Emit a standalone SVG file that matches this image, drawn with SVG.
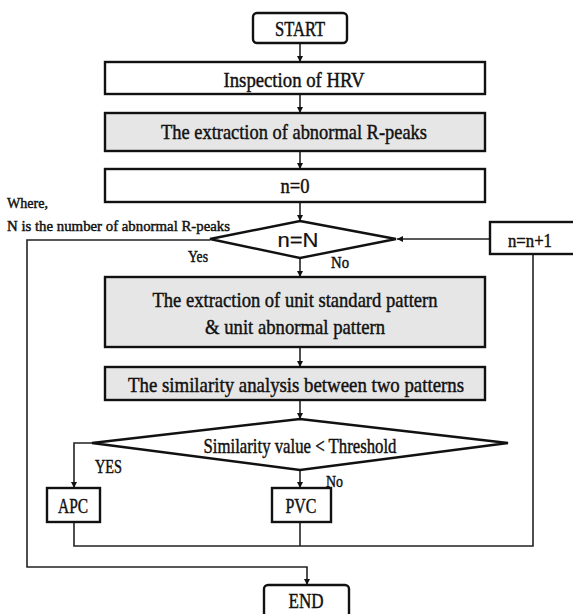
<svg xmlns="http://www.w3.org/2000/svg" width="573" height="614" viewBox="0 0 573 614">
<style>
.box{fill:#fff;stroke:#111;stroke-width:2.4}
.gray{fill:#e6e6e6;stroke:#111;stroke-width:2.4}
.conn{fill:none;stroke:#222;stroke-width:1.6}
text{fill:#111;stroke:#111;stroke-width:0.45}
.t{font-family:"Liberation Serif","Times New Roman",serif;text-anchor:middle}
.s{font-family:"Liberation Sans",Arial,sans-serif;text-anchor:middle;stroke-width:0.2}
.l{font-family:"Liberation Serif","Times New Roman",serif}
</style>
<defs>
<marker id="ah" markerUnits="userSpaceOnUse" markerWidth="8" markerHeight="8" refX="6" refY="3" orient="auto">
<path d="M0,0 L6,3 L0,6 z" fill="#111"/>
</marker>
</defs>
<rect width="573" height="614" fill="#fff"/>
<g id="connectors" class="conn">
<path d="M300,43 V62" marker-end="url(#ah)"/>
<path d="M300,94 V113" marker-end="url(#ah)"/>
<path d="M300,151 V169" marker-end="url(#ah)"/>
<path d="M300,202 V221" marker-end="url(#ah)"/>
<path d="M300,258 V277" marker-end="url(#ah)"/>
<path d="M300,347 V367" marker-end="url(#ah)"/>
<path d="M300,400 V419" marker-end="url(#ah)"/>
<path d="M92,443 H74 V488" marker-end="url(#ah)"/>
<path d="M300,470 V488" marker-end="url(#ah)"/>
<path d="M490,239 H397" marker-end="url(#ah)"/>
<path d="M210,240 H27 V567 H307 V585" marker-end="url(#ah)"/>
<path d="M74,522 V546 H533 V254"/>
<path d="M300,522 V546"/>
</g>
<g id="start">
<rect class="box" x="253" y="13" width="94" height="30" rx="4"/>
<text class="t" x="300" y="36" font-size="20" textLength="50" lengthAdjust="spacingAndGlyphs">START</text>
</g>
<g id="inspection">
<rect class="box" x="105" y="62" width="380" height="32"/>
<text class="t" x="294" y="87" font-size="22" textLength="141" lengthAdjust="spacingAndGlyphs">Inspection of  HRV</text>
</g>
<g id="extract-abnormal">
<rect class="gray" x="105" y="113" width="380" height="38"/>
<text class="t" x="294" y="139" font-size="22" textLength="266" lengthAdjust="spacingAndGlyphs">The extraction of abnormal R-peaks</text>
</g>
<g id="n0">
<rect class="box" x="105" y="169" width="380" height="33"/>
<text class="t" x="295" y="193" font-size="21" textLength="29" lengthAdjust="spacingAndGlyphs">n=0</text>
</g>
<g id="note">
<text class="l" x="7" y="208" font-size="15" textLength="41" lengthAdjust="spacingAndGlyphs">Where,</text>
<text class="l" x="7" y="231" font-size="15" textLength="223" lengthAdjust="spacingAndGlyphs">N is the number of abnormal R-peaks</text>
</g>
<g id="decision-n">
<polygon class="box" points="300,221 396,239 300,258 210,239"/>
<text class="s" x="298" y="247" font-size="20" textLength="41" lengthAdjust="spacingAndGlyphs">n=N</text>
<text class="l" x="188" y="262" font-size="17" textLength="20" lengthAdjust="spacingAndGlyphs">Yes</text>
<text class="l" x="331" y="268" font-size="17" textLength="18" lengthAdjust="spacingAndGlyphs">No</text>
</g>
<g id="increment">
<rect class="box" x="490" y="222" width="86" height="32"/>
<text class="t" x="530" y="247" font-size="19" textLength="44" lengthAdjust="spacingAndGlyphs">n=n+1</text>
</g>
<g id="extract-patterns">
<rect class="gray" x="105" y="277" width="380" height="70"/>
<text class="t" x="295" y="307" font-size="22" textLength="285" lengthAdjust="spacingAndGlyphs">The extraction of unit standard pattern</text>
<text class="t" x="295" y="334" font-size="22" textLength="180" lengthAdjust="spacingAndGlyphs">&amp; unit abnormal pattern</text>
</g>
<g id="similarity">
<rect class="gray" x="105" y="367" width="380" height="33"/>
<text class="t" x="296" y="392" font-size="22" textLength="336" lengthAdjust="spacingAndGlyphs">The similarity analysis  between two patterns</text>
</g>
<g id="decision-threshold">
<polygon class="box" points="300,419 508,443 300,470 92,443"/>
<text class="t" x="300" y="453" font-size="21" textLength="193" lengthAdjust="spacingAndGlyphs">Similarity value &lt; Threshold</text>
<text class="l" x="95" y="473" font-size="18" textLength="27" lengthAdjust="spacingAndGlyphs">YES</text>
<text class="l" x="326" y="487" font-size="17" textLength="17" lengthAdjust="spacingAndGlyphs">No</text>
</g>
<g id="apc">
<rect class="box" x="47" y="488" width="53" height="34"/>
<text class="t" x="73" y="513" font-size="21" textLength="30" lengthAdjust="spacingAndGlyphs">APC</text>
</g>
<g id="pvc">
<rect class="box" x="272" y="488" width="59" height="34"/>
<text class="t" x="301" y="513" font-size="21" textLength="31" lengthAdjust="spacingAndGlyphs">PVC</text>
</g>
<g id="end">
<rect class="box" x="264" y="585" width="85" height="32" rx="4"/>
<text class="t" x="306" y="608" font-size="21" textLength="35" lengthAdjust="spacingAndGlyphs">END</text>
</g>
</svg>
